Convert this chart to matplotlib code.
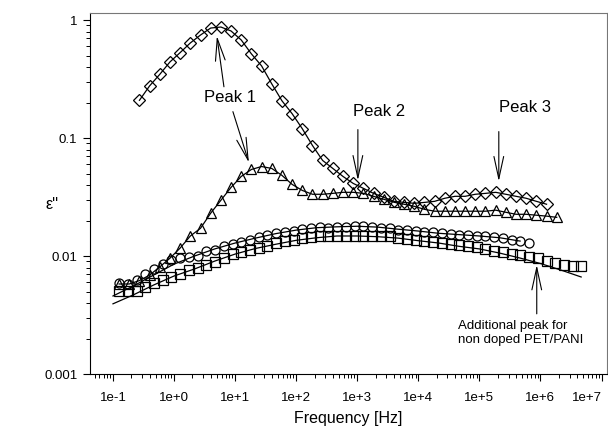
import math

import matplotlib
matplotlib.use("Agg")
import matplotlib.pyplot as plt
from matplotlib.ticker import FixedLocator, FuncFormatter, LogLocator, NullFormatter

plt.rcParams["font.family"] = ["Liberation Sans", "DejaVu Sans"]

# frequency grids (decade mantissas x decades)
decades = [0.1, 1, 10, 1e2, 1e3, 1e4, 1e5, 1e6, 1e7]
mant_6 = [1.259, 1.848, 2.712, 3.981, 5.843, 8.577]
mant_7 = [1.259, 1.749, 2.430, 3.378, 4.694, 6.522, 9.061]
mant_fit = [1.0, 2.154, 4.642]

freq_6 = [m * d for d in decades for m in mant_6]
freq_7 = [m * d for d in decades for m in mant_7]
freq_fit = [m * d for d in decades for m in mant_fit]

x_ticks = [1e-1, 1, 10, 1e2, 1e3, 1e4, 1e5, 1e6, 1e7]
y_ticks = [0.001, 0.01, 0.1, 1]

# diamonds (freq_6[2:43])
diamond = [0.209, 0.277, 0.347, 0.442, 0.53, 0.64, 0.747, 0.856, 0.873, 0.808,
           0.678, 0.517, 0.409, 0.288, 0.207, 0.161, 0.120, 0.0865, 0.0646, 0.0553,
           0.0473, 0.0413, 0.0375, 0.0340, 0.0315, 0.0291, 0.0285, 0.0280, 0.0285, 0.0291,
           0.0309, 0.0321, 0.0321, 0.0334, 0.0340, 0.0347, 0.0334, 0.0321, 0.0309, 0.0291,
           0.0275]

# triangles (freq_6[0:44])
triangle = [0.0058, 0.0058, 0.0062, 0.0069, 0.0081, 0.0096, 0.0117, 0.0148, 0.0172, 0.0231,
            0.0297, 0.0382, 0.0473, 0.0542, 0.0574, 0.0553, 0.0483, 0.0405, 0.0360, 0.0334,
            0.0334, 0.0340, 0.0347, 0.0347, 0.0340, 0.0321, 0.0303, 0.0286, 0.0275, 0.0264,
            0.0249, 0.0240, 0.0240, 0.0240, 0.0240, 0.0240, 0.0240, 0.0245, 0.0235, 0.0226,
            0.0226, 0.0222, 0.0218, 0.0213]

# circles (freq_7[0:48])
circle = [0.0059, 0.0058, 0.0063, 0.0071, 0.0078, 0.0086, 0.0093, 0.0096, 0.0098, 0.0100,
          0.0110, 0.0112, 0.0121, 0.0127, 0.0131, 0.0136, 0.0145, 0.0150, 0.0156, 0.0159,
          0.0163, 0.0169, 0.0172, 0.0176, 0.0174, 0.0177, 0.0177, 0.0179, 0.0179, 0.0176,
          0.0174, 0.0172, 0.0167, 0.0166, 0.0163, 0.0159, 0.0159, 0.0156, 0.0153, 0.0152,
          0.0150, 0.0149, 0.0148, 0.0146, 0.0142, 0.0136, 0.0133, 0.0129]

# squares (freq_7[0:54])
square = [0.0051, 0.0051, 0.0051, 0.0055, 0.0059, 0.0063, 0.0067, 0.0071, 0.0076, 0.0079,
          0.0084, 0.0089, 0.0096, 0.0104, 0.0108, 0.0112, 0.0117, 0.0121, 0.0129, 0.0134,
          0.0136, 0.0142, 0.0145, 0.0148, 0.0148, 0.0148, 0.0148, 0.0148, 0.0148, 0.0148,
          0.0148, 0.0148, 0.0143, 0.0139, 0.0136, 0.0134, 0.0131, 0.0130, 0.0126, 0.0124,
          0.0121, 0.0119, 0.0115, 0.0110, 0.0108, 0.0104, 0.0102, 0.0099, 0.0096, 0.0091,
          0.0087, 0.0084, 0.0082, 0.0082]

# fitted curves (freq_fit)
circle_fit = [0.00459, 0.00558, 0.00691, 0.00855, 0.0100, 0.0115, 0.0129, 0.0142, 0.0155,
              0.0166, 0.0174, 0.0177, 0.0179, 0.0176, 0.0169, 0.0163, 0.0156, 0.0152,
              0.0148, 0.0143, 0.0134]
square_fit = [0.00394, 0.00469, 0.00569, 0.00678, 0.00777, 0.00907, 0.0104, 0.0116, 0.0126,
              0.0136, 0.0143, 0.0148, 0.0148, 0.0146, 0.0142, 0.0135, 0.0129, 0.0121,
              0.0115, 0.0106, 0.00962, 0.00865, 0.00762, 0.00665]

fig = plt.figure(figsize=(6.08, 4.36), dpi=100)
ax = fig.add_axes([0.148, 0.142, 0.85, 0.828])

lw = 0.9
mk = dict(markerfacecolor="none", markeredgecolor="black", markeredgewidth=0.9, color="black")

ax.plot(freq_fit[:len(circle_fit)], circle_fit, "-", color="black", lw=lw)
ax.plot(freq_fit[:len(square_fit)], square_fit, "-", color="black", lw=lw)
ax.plot(freq_7[:len(circle)], circle, "o", markersize=6.5, **mk)
ax.plot(freq_7[:len(square)], square, "s", markersize=6.5, **mk)
ax.plot(freq_6[:len(triangle)], triangle, "-^", lw=lw, markersize=7, **mk)
ax.plot(freq_6[2:2 + len(diamond)], diamond, "-D", lw=lw, markersize=6, **mk)

ax.set_xscale("log")
ax.set_yscale("log")
ax.set_xlim(0.042, 1.22e7)
ax.set_ylim(0.001, 1.146)

ax.xaxis.set_major_locator(FixedLocator(x_ticks))
ax.xaxis.set_minor_locator(LogLocator(base=10, subs=range(2, 10), numticks=20))
ax.xaxis.set_major_formatter(FuncFormatter(lambda v, p: "1e%+d" % round(math.log10(v))))
ax.xaxis.set_minor_formatter(NullFormatter())
ax.yaxis.set_major_locator(FixedLocator(y_ticks))
ax.yaxis.set_major_formatter(FuncFormatter(lambda v, p: "%g" % v))
ax.yaxis.set_minor_formatter(NullFormatter())

ax.tick_params(which="major", direction="out", length=5, width=0.8, labelsize=9.5, pad=4)
ax.tick_params(which="minor", direction="out", length=3, width=0.7)
ax.tick_params(top=False, right=False, which="both")
ax.tick_params(axis="x", pad=8)

fig.canvas.draw()
ax.get_xticklabels()[-1].set_horizontalalignment("right")

for side in ["left", "bottom"]:
    ax.spines[side].set_color("black")
for side in ["top", "right"]:
    ax.spines[side].set_color("#777777")

ax.set_xlabel("Frequency [Hz]", fontsize=11.5, labelpad=5)
ax.set_ylabel("ε''", fontsize=11.5, rotation=0, va="center", ha="center")
ax.yaxis.set_label_coords(-0.073, 0.47)

arrow = dict(arrowstyle="->,head_length=1.6,head_width=0.35", color="black", lw=0.8,
             shrinkA=0, shrinkB=0)

ax.text(8.2, 0.22, "Peak 1", fontsize=12, ha="center", va="center")
ax.annotate("", xy=(5.03, 0.733), xytext=(6.56, 0.272), arrowprops=arrow)
ax.annotate("", xy=(16.8, 0.0621), xytext=(9.2, 0.1675), arrowprops=arrow)

ax.text(2260, 0.1675, "Peak 2", fontsize=12, ha="center", va="center")
ax.annotate("", xy=(1024, 0.0438), xytext=(1024, 0.118), arrowprops=arrow)

ax.text(5.53e5, 0.181, "Peak 3", fontsize=12, ha="center", va="center")
ax.annotate("", xy=(2.08e5, 0.043), xytext=(2.08e5, 0.1135), arrowprops=arrow)

ax.annotate("", xy=(8.7e5, 0.0084), xytext=(8.7e5, 0.00324), arrowprops=arrow)
ax.text(4.43e4, 0.00224, "Additional peak for\nnon doped PET/PANI", fontsize=9.5,
        ha="left", va="center", linespacing=1.2)

fig.savefig("out.png", dpi=100)
